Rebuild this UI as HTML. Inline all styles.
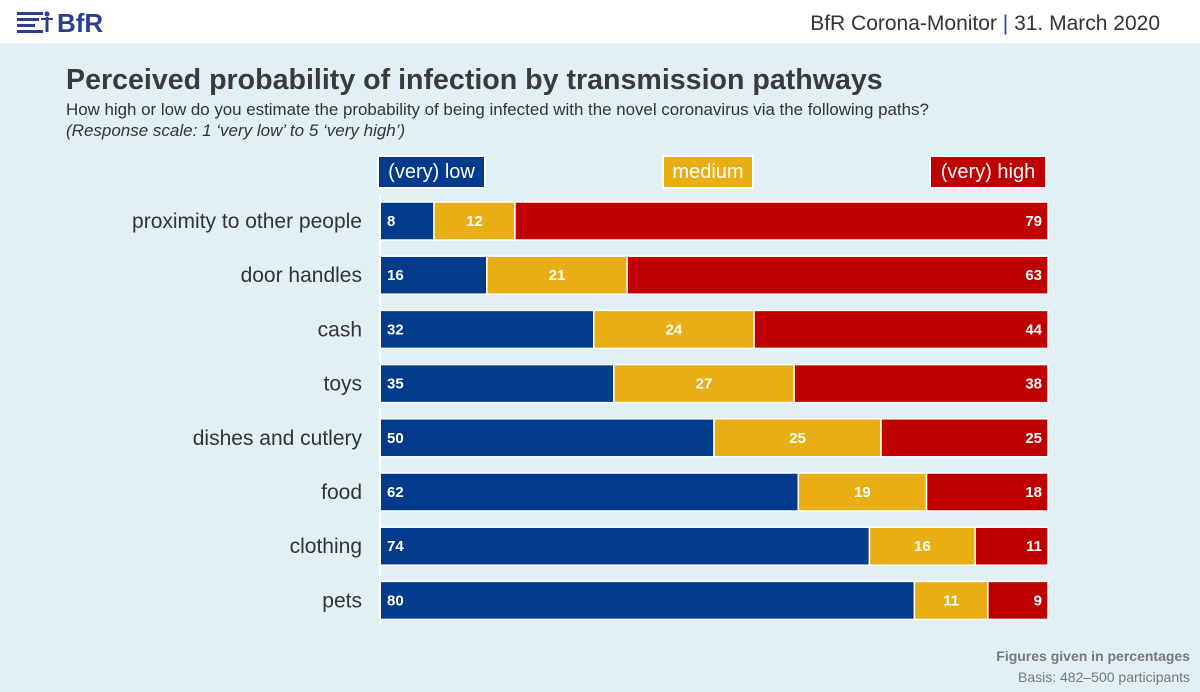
<!DOCTYPE html>
<html><head><meta charset="utf-8"><style>
body{margin:0;width:1200px;height:692px;overflow:hidden;font-family:"Liberation Sans",sans-serif;background:#e1f0f5;position:relative}
.hdr{position:absolute;left:0;top:0;width:1200px;height:43px;background:#fff}
.t{position:absolute;white-space:nowrap}
</style></head><body>
<div class="hdr">
 <svg class="t" style="left:17px;top:10px" width="110" height="24">
  <g fill="#2d3e92"><rect x="0" y="2" width="26" height="3"/><rect x="0" y="8" width="22" height="3"/><rect x="0" y="14" width="18" height="3"/><rect x="0" y="20" width="26" height="3"/>
  <circle cx="30" cy="4" r="2.5"/><rect x="28.5" y="7" width="3" height="15"/><rect x="24" y="8" width="12" height="2"/></g>
  <text x="40" y="22" font-family="Liberation Sans" font-weight="bold" font-size="26" fill="#2d3e92">BfR</text>
 </svg>
 <div class="t" style="right:40px;top:12px;font-size:21px;color:#333">BfR Corona-Monitor <span style="color:#2d3e92">|</span> 31. March 2020</div>
</div>
<div class="t" style="left:66px;top:64px;font-size:28.6px;font-weight:bold;color:#3a3a3a">Perceived probability of infection by transmission pathways</div>
<div class="t" style="left:66px;top:100px;font-size:16.9px;color:#333">How high or low do you estimate the probability of being infected with the novel coronavirus via the following paths?</div>
<div class="t" style="left:66px;top:121px;font-size:17px;font-style:italic;color:#333">(Response scale: 1 ‘very low’ to 5 ‘very high’)</div>
<div class="t" style="left:377px;top:155px;width:105px;height:30px;background:#023a8c;border:2px solid #fff;color:#fff;font-size:20px;line-height:30px;text-align:center">(very) low</div>
<div class="t" style="left:662px;top:155px;width:88px;height:30px;background:#e8ae14;border:2px solid #fff;color:#fff;font-size:20px;line-height:30px;text-align:center">medium</div>
<div class="t" style="left:929px;top:155px;width:114px;height:30px;background:#c00000;border:2px solid #fff;color:#fff;font-size:20px;line-height:30px;text-align:center">(very) high</div>
<svg id="chart" class="t" style="left:0;top:0" width="1200" height="692"></svg>
<div class="t" style="right:10px;top:648px;font-size:14px;font-weight:bold;color:#777">Figures given in percentages</div>
<div class="t" style="right:10px;top:669px;font-size:14px;color:#777">Basis: 482–500 participants</div>
<script>
const categories=["proximity to other people","door handles","cash","toys","dishes and cutlery","food","clothing","pets"];
const low=[8,16,32,35,50,62,74,80];
const medium=[12,21,24,27,25,19,16,11];
const high=[79,63,44,38,25,18,11,9];
const svg=document.getElementById('chart');
const NS='http://www.w3.org/2000/svg';
const X0=380,W=668,Y0=202,STEP=54.2,BH=38;
function y(i){return Y0+i*STEP;}
function mk(tag,attrs){const e=document.createElementNS(NS,tag);for(const k in attrs)e.setAttribute(k,attrs[k]);svg.appendChild(e);return e;}
const cols=['#023a8c','#e8ae14','#c00000'];
categories.forEach((c,i)=>{
 const vals=[low[i],medium[i],high[i]];const tot=vals.reduce((a,b)=>a+b,0);
 let x=X0;
 const lab=mk('text',{x:362,y:y(i)+BH/2+7,'text-anchor':'end','font-size':21,fill:'#333','font-family':'Liberation Sans'});
 lab.textContent=c;
 
 
 vals.forEach((v,k)=>{
  const w=v/tot*W;
  const r=mk('rect',{x:x,y:y(i),width:w,height:BH,fill:cols[k],stroke:'#fff','stroke-width':1.5});
  
  
  let tx,anchor;
  if(k==0){tx=x+7;anchor='start';}else if(k==1){tx=x+w/2;anchor='middle';}else{tx=x+w-6;anchor='end';}
  const t=mk('text',{x:tx,y:y(i)+BH/2+5,'text-anchor':anchor,'font-size':15,'font-weight':'bold',fill:'#fff','font-family':'Liberation Sans'});
  t.textContent=v;
  
  
  x+=w;
 });
});
const ax=mk('line',{x1:X0,x2:X0,y1:196,y2:624,stroke:'#fff','stroke-width':2});


</script>
</body></html>
